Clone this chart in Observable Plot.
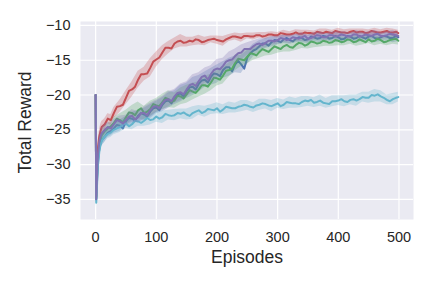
<!DOCTYPE html>
<html><head><meta charset="utf-8">
<script src="https://cdn.jsdelivr.net/npm/d3@7"></script>
<script src="https://cdn.jsdelivr.net/npm/@observablehq/plot@0.6"></script>
<style>body{margin:0;background:#fff;}</style>
</head><body><div id="chart"></div>
<script>
// coarse sample episodes (used for lines and bands)
const episodes = [0,1,2,3,4,6,8,10,15,20,25,
 30,40,50,60,70,80,90,100,110,120,
 130,140,150,160,170,180,190,200,210,220,
 230,240,250,260,270,280,290,300,310,320,
 330,340,350,360,370,380,390,400,410,420,
 430,440,450,460,470,480,490,499];
// extra in-between episodes for the noisy lines
const midEpisodes = [35,45,55,65,75,85,95,105,115,125,
 135,145,155,165,175,185,195,205,215,225,
 235,245,255,265,275,285,295,305,315,325,
 335,345,355,365,375,385,395,405,415,425,
 435,445,455,465,475,485,495];

const blue = [-20,-35,-33,-31,-29.5,-27.8,-27,-26.5,-26,-25.4,-25.2,
 -24.8,-24.4,-23.8,-23.4,-23.0,-22.8,-22.4,-21.8,-21.4,-20.8,
 -20.4,-19.8,-19.4,-18.8,-18.4,-17.8,-17.4,-17.0,-16.4,-16.0,
 -15.6,-15.6,-14.6,-13.6,-13.0,-12.6,-12.4,-12.2,-12.0,-12.1,
 -11.9,-11.8,-12.0,-11.7,-11.8,-11.6,-11.8,-11.7,-11.9,-11.6,
 -11.8,-11.7,-11.6,-11.8,-11.7,-11.6,-11.8,-11.7];
const blueMid = [-24.3,-24.8,-23.3,-23.7,-22.6,-23.1,-21.9,-22.2,-20.9,-21.2,
 -19.9,-20.2,-18.9,-19.2,-17.9,-18.2,-16.9,-17.3,-16.0,-16.6,
 -15.1,-16.2,-14.0,-13.4,-12.6,-12.9,-12.1,-12.4,-11.8,-12.3,
 -11.7,-12.1,-11.6,-11.9,-11.5,-11.9,-11.5,-12.0,-11.5,-11.9,
 -11.5,-11.9,-11.5,-11.9,-11.5,-11.8,-11.5];
const green = [-20,-34.8,-32.5,-30.2,-28.8,-27.2,-26.4,-25.8,-25.2,-24.8,-24.5,
 -24.0,-23.6,-23.2,-22.6,-22.2,-22.6,-22.0,-21.5,-21.0,-20.6,
 -20.8,-20.2,-19.9,-19.5,-19.2,-18.6,-18.2,-17.6,-17.2,-16.4,
 -15.4,-14.9,-14.5,-14.1,-13.8,-13.6,-13.4,-13.2,-13.0,-13.1,
 -12.8,-12.6,-12.7,-12.4,-12.5,-12.3,-12.4,-12.2,-12.3,-12.1,
 -12.3,-12.2,-12.0,-12.2,-12.1,-12.3,-12.0,-12.2];
const greenMid = [-23.4,-23.9,-22.5,-22.9,-21.9,-22.4,-21.3,-21.6,-20.4,-21.0,
 -20.1,-20.5,-19.3,-19.7,-18.6,-18.8,-17.5,-17.8,-16.5,-16.2,
 -14.8,-15.0,-14.0,-14.3,-13.4,-13.8,-13.0,-13.4,-12.8,-13.2,
 -12.5,-12.9,-12.3,-12.6,-12.2,-12.5,-12.1,-12.4,-12.0,-12.4,
 -12.0,-12.4,-12.3,-11.9,-12.4,-12.1,-11.9];
const red = [-20,-34.6,-31.5,-29,-27.5,-26,-25.2,-24.6,-24.2,-23.4,-23.6,
 -22.6,-21.6,-20.4,-19.2,-17.8,-17.0,-16.1,-14.9,-13.9,-13.2,
 -12.6,-12.2,-12.4,-12.3,-12.1,-12.3,-12.0,-12.1,-12.3,-11.8,
 -11.6,-11.8,-11.5,-11.6,-11.4,-11.5,-11.3,-11.4,-11.2,-11.3,
 -11.0,-11.2,-11.1,-11.2,-11.0,-10.9,-11.1,-10.9,-11.0,-10.9,
 -11.0,-10.9,-11.0,-10.9,-11.0,-10.8,-11.0,-11.1];
const redMid = [-21.7,-21.4,-19.4,-18.8,-17.0,-16.9,-15.2,-14.6,-13.2,-13.3,
 -12.3,-12.5,-12.2,-12.0,-12.4,-12.1,-11.9,-12.2,-12.0,-11.6,
 -11.7,-11.5,-11.6,-11.4,-11.6,-11.3,-11.4,-11.1,-11.3,-11.2,
 -11.2,-11.0,-11.1,-10.9,-11.1,-11.0,-10.8,-11.0,-11.1,-10.8,
 -10.9,-11.1,-10.8,-11.0,-10.9,-11.0,-10.9];
const purple = [-20,-35,-32.5,-30,-28.5,-26.8,-26,-25.5,-25,-24.6,-24.8,
 -24.2,-23.8,-23.6,-23.0,-23.2,-22.6,-22.2,-21.6,-21.2,-20.6,
 -20.2,-19.6,-19.2,-18.4,-18.0,-17.2,-17.0,-16.2,-15.8,-15.0,
 -14.4,-13.9,-13.4,-13.0,-12.6,-12.5,-12.2,-12.1,-11.9,-12.0,
 -11.8,-11.7,-11.9,-11.6,-11.5,-11.7,-11.4,-11.5,-11.4,-11.6,
 -11.3,-11.5,-11.4,-11.3,-11.5,-11.4,-11.3,-11.5];
const purpleMid = [-23.6,-24.1,-23.1,-23.5,-22.6,-22.9,-21.7,-21.9,-20.7,-20.9,
 -19.7,-19.9,-18.6,-18.7,-17.4,-17.8,-16.4,-16.3,-15.2,-14.9,
 -14.0,-13.4,-13.4,-12.7,-12.8,-12.2,-12.3,-11.8,-12.1,-11.7,
 -11.9,-11.5,-11.8,-11.4,-11.7,-11.4,-11.6,-11.3,-11.6,-11.3,
 -11.6,-11.3,-11.5,-11.2,-11.5,-11.2,-11.4];
const cyan = [-20,-35.5,-33.5,-31.5,-30,-28.2,-27.2,-26.6,-26.0,-25.6,-25.4,
 -25.0,-24.6,-24.1,-24.2,-23.8,-23.7,-23.6,-23.1,-23.2,-22.9,
 -22.9,-22.7,-22.8,-22.6,-22.2,-22.4,-22.1,-21.9,-22.1,-21.8,
 -21.9,-21.6,-21.5,-21.8,-21.4,-21.3,-21.6,-21.2,-21.4,-21.1,
 -21.2,-21.0,-20.9,-21.1,-20.8,-21.2,-20.9,-20.8,-20.9,-20.7,
 -20.8,-20.3,-20.4,-20.1,-20.2,-20.7,-20.6,-20.3];
const cyanMid = [-24.8,-24.2,-24.5,-23.7,-24.0,-23.3,-23.5,-23.4,-22.7,-23.0,
 -22.6,-22.5,-23.0,-22.4,-22.6,-22.0,-22.2,-22.4,-21.7,-21.9,
 -21.7,-21.4,-21.7,-21.5,-21.2,-21.5,-21.4,-21.6,-21.0,-21.2,
 -21.3,-20.8,-20.7,-21.0,-21.1,-21.3,-20.9,-20.6,-21.0,-20.6,
 -20.6,-20.4,-20.0,-19.9,-20.4,-20.9,-20.4];

const blueSpread = [0,0.6,1.2,1.3,1.1,1.0,0.9,0.8,0.8,0.7,0.7,
 0.7,0.8,0.7,0.9,0.8,0.9,1.0,0.9,1.0,1.1,
 1.0,1.2,1.1,1.3,1.2,1.1,1.2,1.3,1.2,1.3,
 1.2,1.3,1.0,0.9,0.8,0.7,0.7,0.6,0.6,0.6,
 0.6,0.7,0.6,0.6,0.7,0.6,0.6,0.7,0.6,0.6,
 0.7,0.6,0.6,0.7,0.6,0.6,0.7,0.6];
const greenSpread = [0,0.6,1.2,1.3,1.1,1.0,0.9,0.8,0.8,0.7,0.7,
 0.8,0.9,1.0,1.1,1.2,1.0,1.1,1.0,1.1,1.2,
 1.1,1.2,1.3,1.2,1.1,1.3,1.2,1.1,1.2,1.0,
 1.1,1.0,1.0,0.9,0.9,0.8,0.9,0.8,0.8,0.7,
 0.8,0.7,0.7,0.8,0.6,0.7,0.6,0.7,0.6,0.6,
 0.7,0.6,0.6,0.7,0.6,0.6,0.7,0.6];
const redSpread = [0,0.6,1.2,1.2,1.0,0.9,0.9,0.8,0.8,0.7,0.8,
 0.8,0.9,1.0,1.1,1.2,1.0,1.3,1.1,1.0,0.9,
 0.8,0.9,0.7,0.6,0.7,0.6,0.5,0.6,0.7,0.5,
 0.5,0.6,0.4,0.5,0.4,0.5,0.4,0.4,0.5,0.4,
 0.4,0.5,0.4,0.4,0.5,0.4,0.4,0.5,0.4,0.4,
 0.5,0.4,0.4,0.5,0.4,0.4,0.5,0.4];
const purpleSpread = [0,0.6,1.2,1.3,1.1,1.0,0.9,0.8,0.8,0.7,0.7,
 0.7,0.8,0.7,0.9,0.8,0.9,1.0,0.9,1.0,1.1,
 1.0,1.2,1.1,1.3,1.2,1.1,1.2,1.3,1.1,1.2,
 1.0,1.1,0.9,0.8,0.7,0.7,0.6,0.6,0.5,0.6,
 0.5,0.6,0.5,0.5,0.6,0.5,0.5,0.6,0.5,0.5,
 0.6,0.5,0.5,0.6,0.5,0.5,0.6,0.5];
const cyanSpread = [0,0.8,1.3,1.3,1.1,1.0,0.9,0.8,0.8,0.7,0.7,
 0.7,0.8,0.7,0.8,0.7,0.8,0.7,0.8,0.9,0.7,
 0.8,0.7,0.8,0.9,0.7,0.8,0.7,0.8,0.7,0.8,
 0.7,0.8,0.7,0.7,0.8,0.7,0.8,0.7,0.7,0.8,
 0.7,0.8,0.7,0.7,0.8,0.7,0.8,0.7,0.8,0.7,
 0.8,0.7,0.8,0.9,0.8,0.7,0.8,0.7];

const xTicks = [0,100,200,300,400,500];
const yTicks = [-35,-30,-25,-20,-15,-10];

// drawing order: purple last (on top)
const series = [
  {name:"blue", values:blue, mid:blueMid, spread:blueSpread, color:"#4C72B0"},
  {name:"green", values:green, mid:greenMid, spread:greenSpread, color:"#55A868"},
  {name:"red", values:red, mid:redMid, spread:redSpread, color:"#C44E52"},
  {name:"cyan", values:cyan, mid:cyanMid, spread:cyanSpread, color:"#64B5CD"},
  {name:"purple", values:purple, mid:purpleMid, spread:purpleSpread, color:"#8172B2"}
];

const seriesMarks = [];
for (const s of series) {
  const band = episodes.map((e,i) => ({ep:e, lo:s.values[i]-s.spread[i], hi:s.values[i]+s.spread[i]}));
  const pts = episodes.map((e,i) => ({ep:e, v:s.values[i]}))
    .concat(midEpisodes.map((e,i) => ({ep:e, v:s.mid[i]})))
    .sort((a,b) => a.ep - b.ep);
  seriesMarks.push(Plot.areaY(band, {x:"ep", y1:"lo", y2:"hi", fill:s.color, fillOpacity:0.28}));
  seriesMarks.push(Plot.lineY(pts, {x:"ep", y:"v", stroke:s.color, strokeWidth:2}));
}

const fmt = d => d < 0 ? "\u2212" + Math.abs(d) : String(d);

const chart = Plot.plot({
  width:432, height:286,
  marginLeft:80, marginRight:19, marginTop:21, marginBottom:67,
  style:{fontFamily:"'Liberation Sans', Arial, sans-serif", background:"#fff", color:"#262626"},
  x:{domain:[-24.95,523.95]},
  y:{domain:[-37.9,-9.43]},
  marks:[
    Plot.frame({fill:"#EAEAF2", stroke:null}),
    Plot.gridX(xTicks, {stroke:"#fff", strokeOpacity:1, strokeWidth:1.2}),
    Plot.gridY(yTicks, {stroke:"#fff", strokeOpacity:1, strokeWidth:1.2}),
    ...seriesMarks,
    Plot.axisX(xTicks, {tickSize:0, tickPadding:12, fontSize:14.5, label:null, tickFormat:fmt}),
    Plot.axisY(yTicks, {tickSize:0, tickPadding:10, fontSize:14.5, label:null, tickFormat:fmt}),
    Plot.text(["Episodes"], {text:d=>d, frameAnchor:"bottom", lineAnchor:"middle", textAnchor:"middle", dy:38, fontSize:17.5, fill:"#262626"}),
    Plot.text(["Total Reward"], {text:d=>d, frameAnchor:"left", lineAnchor:"middle", textAnchor:"middle", dx:-55, dy:2, rotate:-90, fontSize:17.5, fill:"#262626"})
  ]
});
document.getElementById("chart").appendChild(chart);
</script>
</body></html>
